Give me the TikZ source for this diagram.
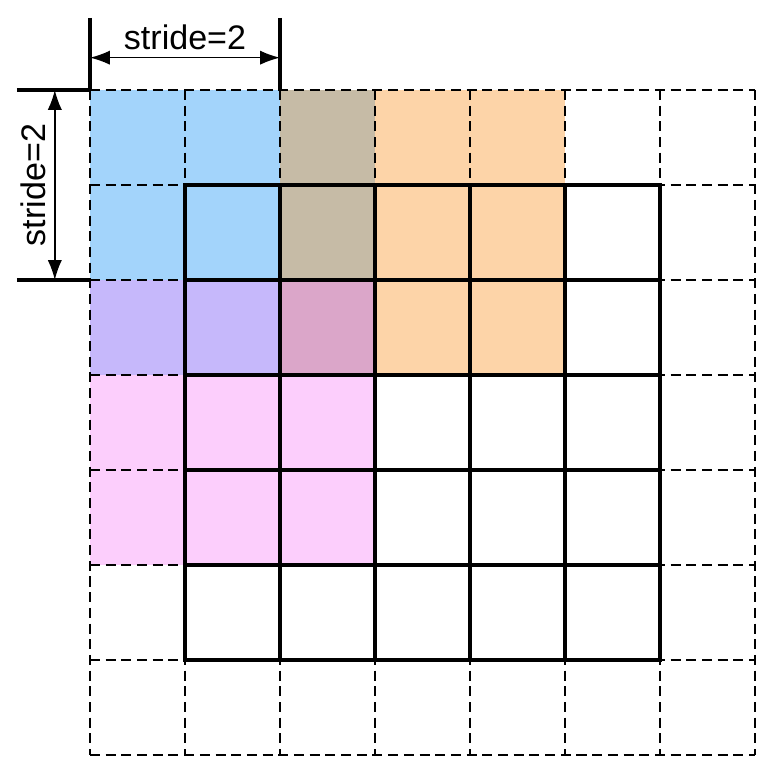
\documentclass[tikz,border=0pt]{standalone}
\usepackage{fontspec}
\setmainfont{Liberation Sans}
\usetikzlibrary{arrows.meta,positioning}

\definecolor{winblue}{HTML}{A3D4FB}
\definecolor{winorange}{HTML}{FDD4A8}
\definecolor{winpink}{HTML}{FCCEFC}
\definecolor{mixbrown}{HTML}{C6BBA6}
\definecolor{mixpurple}{HTML}{C6B8FB}
\definecolor{mixall}{HTML}{DBA6C9}

\begin{document}
\begin{tikzpicture}
[   x=1cm, y=-1cm,
    padline/.style={draw=black, line width=0.4pt, dash pattern=on 3pt off 1.7pt},
    inline/.style={draw=black, line width=1pt, line cap=rect},
    tick/.style={line width=0.95pt},
    dim/.style={line width=0.45pt, {Latex[length=2.1mm,width=1.5mm]}-{Latex[length=2.1mm,width=1.5mm]}},
    lbl/.style={font=\fontsize{10.2}{12}\selectfont, inner sep=0pt} ]
    \useasboundingbox (-0.947,-0.947) rectangle (7.284,7.242);

    % windows
    \fill[winblue] (0,0) rectangle (3,3);
    \fill[winorange] (2,0) rectangle (5,3);
    \fill[winpink] (0,2) rectangle (3,5);
    \fill[mixbrown] (2,0) rectangle (3,2);
    \fill[mixpurple] (0,2) rectangle (2,3);
    \fill[mixall] (2,2) rectangle (3,3);

    % padded input
    \foreach \x in {0,...,7}
    {   \draw[padline] (\x,0) -- (\x,7);
        \draw[padline] (0,\x) -- (7,\x);
    }

    % original input
    \foreach \x in {1,...,6}
    {   \draw[inline] (\x,1) -- (\x,6);
        \draw[inline] (1,\x) -- (6,\x);
    }

    % stride marks
    \coordinate (t-1) at (0,-0.76);
    \coordinate (t-2) at (2,-0.76);
    \coordinate (l-1) at (-0.77,0);
    \coordinate (l-2) at (-0.77,2);
    \draw[tick] (t-1) -- (0,0);
    \draw[tick] (t-2) -- (2,0);
    \draw[tick] (l-1) -- (0,0);
    \draw[tick] (l-2) -- (0,2);
    \coordinate (ta) at (0,-0.34);
    \coordinate (tb) at (2,-0.34);
    \coordinate (la) at (-0.37,0);
    \coordinate (lb) at (-0.37,2);
    \draw[dim] (ta) -- (tb);
    \draw[dim] (la) -- (lb);
    \node[lbl] (st-top) at (1,-0.55) {stride=2};
    \node[lbl, rotate=90] (st-left) at (-0.6,1) {stride=2};
\end{tikzpicture}
\end{document}
